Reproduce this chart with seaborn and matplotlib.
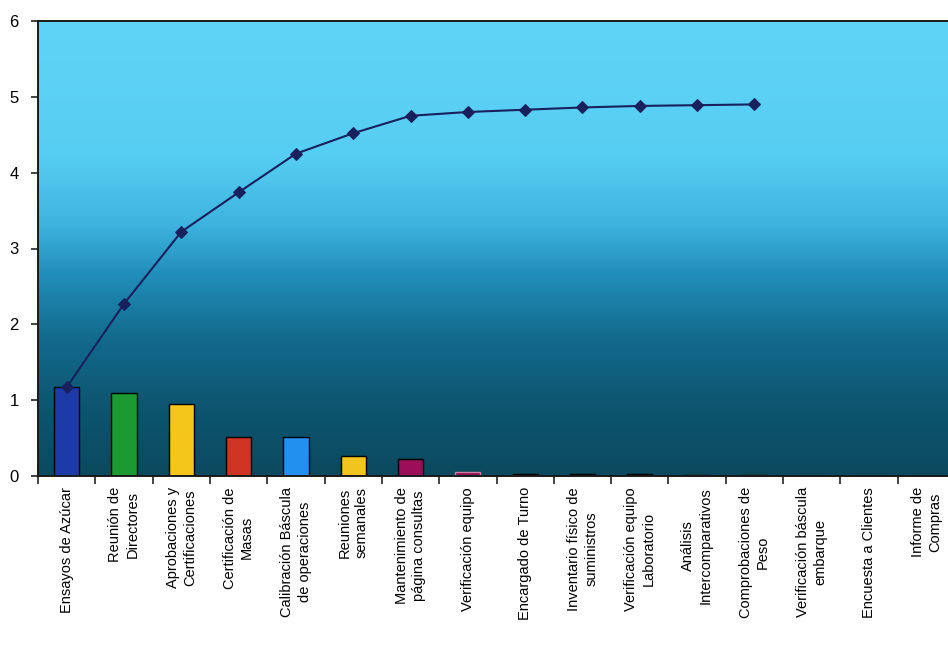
import numpy as np
import pandas as pd
import matplotlib
matplotlib.use("Agg")
import matplotlib.pyplot as plt
from matplotlib.colors import LinearSegmentedColormap
import seaborn as sns

categorias = [
    "Ensayos de Azúcar",
    "Reunión de\nDirectores",
    "Aprobaciones y\nCertificaciones",
    "Certificación de\nMasas",
    "Calibración Báscula\nde operaciones",
    "Reuniones\nsemanales",
    "Mantenimiento de\npágina consultas",
    "Verificación equipo",
    "Encargado de Turno",
    "Inventario físico de\nsuministros",
    "Verificación equipo\nLaboratorio",
    "Análisis\nIntercomparativos",
    "Comprobaciones de\nPeso",
    "Verificación báscula\nembarque",
    "Encuesta a Clientes",
    "Informe de\nCompras",
]
valores = [1.17, 1.10, 0.95, 0.52, 0.51, 0.27, 0.23, 0.05, 0.03, 0.03, 0.02, 0.01, 0.01, 0.0, 0.0, 0.0]
# the cumulative curve covers the first 13 activities
n_acumulado = 13
colores = ["#1c3aa8", "#1c9a32", "#f4c61c", "#cf3322", "#2290ee", "#f2c41e",
           "#9c0f58", "#8a1050", "#2a1414", "#2a1414", "#2a1414", "#2a1414",
           "#2a1414", "#2a1414", "#2a1414", "#2a1414"]
y_ticks = [0, 1, 2, 3, 4, 5, 6]

df = pd.DataFrame({"cat": categorias, "valor": valores})
acum = pd.DataFrame({"pos": np.arange(n_acumulado),
                     "acum": np.cumsum(valores[:n_acumulado])})

sns.set_theme(style="white")
plt.rcParams["font.family"] = ["Liberation Sans", "DejaVu Sans"]

fig = plt.figure(figsize=(9.48, 6.45), dpi=100)
ax = fig.add_axes([38 / 948, 169 / 645, 917 / 948, 455 / 645])

# vertical background gradient: light cyan at top to dark teal at the base
grad_cmap = LinearSegmentedColormap.from_list("fondo", [
    (0.00, "#60d4f6"), (0.30, "#56cdf2"), (0.45, "#3db2de"),
    (0.55, "#2290bc"), (0.70, "#126a8c"), (0.85, "#0d5570"), (1.00, "#0b4a5e")])
grad = np.linspace(0, 1, 256).reshape(-1, 1)
ax.imshow(grad, cmap=grad_cmap, aspect="auto", extent=[0, 1, 0, 1],
          transform=ax.transAxes, zorder=0, interpolation="bicubic")

sns.barplot(data=df, x="cat", y="valor", hue="cat", palette=colores,
            saturation=1, legend=False, width=0.44, edgecolor="black",
            linewidth=1.0, ax=ax, zorder=2)
bars = ax.patches
bars[7].set_edgecolor("#d27aa0")

sns.lineplot(data=acum, x="pos", y="acum", color="#18205e", linewidth=1.5,
             marker="D", markersize=6, markeredgecolor="#18205e", ax=ax, zorder=3)

ax.set_xlim(-0.5, len(categorias) - 0.5)
ax.set_ylim(0, 6)
ax.set_yticks(y_ticks)
ax.set_yticklabels([str(t) for t in y_ticks], fontsize=12)
ax.set_xticks(range(len(categorias)))
ax.set_xticklabels(categorias, rotation=90, fontsize=10.5, ha="center", va="top",
                   multialignment="center", linespacing=1.3)
ax.set_xticks(np.arange(-0.5, len(categorias), 1.0), minor=True)
ax.tick_params(axis="x", which="major", length=0, pad=8, colors="black")
ax.tick_params(axis="x", which="minor", length=6, width=1.2, direction="out",
               color="#222222", bottom=True)
ax.tick_params(axis="y", length=5, width=1.2, direction="out", color="#222222",
               left=True, pad=9, labelcolor="black")
ax.set_xlabel("")
ax.set_ylabel("")
for side, sp in ax.spines.items():
    sp.set_visible(True)
    sp.set_color("#1a1a1a")
    sp.set_linewidth(1.4)
    sp.set_zorder(4)
ax.grid(False)

fig.savefig("out.png", dpi=100)
